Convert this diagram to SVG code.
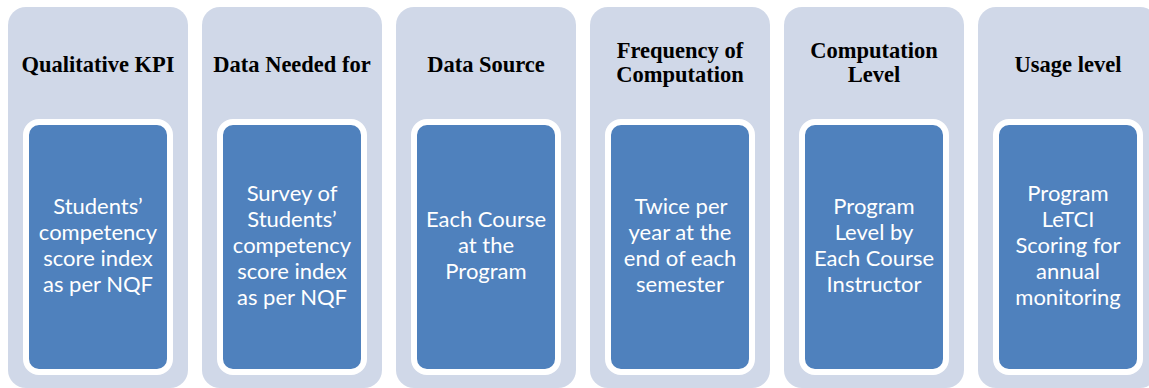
<svg xmlns="http://www.w3.org/2000/svg" width="1149" height="388" viewBox="0 0 1149 388">
<style>
.outer{fill:#D0D8E8;}
.inner{fill:#4F81BD;stroke:#FFFFFF;stroke-width:6;}
.head{font-family:"Liberation Serif","Times New Roman",serif;font-weight:bold;font-size:22.5px;fill:#000000;text-anchor:middle;}
.body{font-family:Lato,"Open Sans",sans-serif;font-size:22px;fill:#FFFFFF;text-anchor:middle;}
</style>
<rect x="0" y="0" width="1149" height="388" fill="#FFFFFF"/>
<g id="node1">
<rect class="outer" x="8" y="7" width="180" height="381" rx="18"/>
<rect class="inner" x="26" y="122" width="144" height="250" rx="13"/>
<text class="head" x="98" y="72">Qualitative KPI</text>
<text class="body" x="98" y="214">Students’</text>
<text class="body" x="98" y="240">competency</text>
<text class="body" x="98" y="266">score index</text>
<text class="body" x="98" y="292">as per NQF</text>
</g>
<g id="node2">
<rect class="outer" x="202" y="7" width="180" height="381" rx="18"/>
<rect class="inner" x="220" y="122" width="144" height="250" rx="13"/>
<text class="head" x="292" y="72">Data Needed for</text>
<text class="body" x="292" y="201">Survey of</text>
<text class="body" x="292" y="227">Students’</text>
<text class="body" x="292" y="253">competency</text>
<text class="body" x="292" y="279">score index</text>
<text class="body" x="292" y="305">as per NQF</text>
</g>
<g id="node3">
<rect class="outer" x="396" y="7" width="180" height="381" rx="18"/>
<rect class="inner" x="414" y="122" width="144" height="250" rx="13"/>
<text class="head" x="486" y="72">Data Source</text>
<text class="body" x="486" y="227">Each Course</text>
<text class="body" x="486" y="253">at the</text>
<text class="body" x="486" y="279">Program</text>
</g>
<g id="node4">
<rect class="outer" x="590" y="7" width="180" height="381" rx="18"/>
<rect class="inner" x="608" y="122" width="144" height="250" rx="13"/>
<text class="head" x="680" y="58">Frequency of</text>
<text class="head" x="680" y="82">Computation</text>
<text class="body" x="681" y="214">Twice per</text>
<text class="body" x="680" y="240">year at the</text>
<text class="body" x="680" y="266">end of each</text>
<text class="body" x="680" y="292">semester</text>
</g>
<g id="node5">
<rect class="outer" x="784" y="7" width="180" height="381" rx="18"/>
<rect class="inner" x="802" y="122" width="144" height="250" rx="13"/>
<text class="head" x="874" y="58">Computation</text>
<text class="head" x="874" y="82">Level</text>
<text class="body" x="874" y="214">Program</text>
<text class="body" x="874" y="240">Level by</text>
<text class="body" x="874" y="266">Each Course</text>
<text class="body" x="874" y="292">Instructor</text>
</g>
<g id="node6">
<rect class="outer" x="978" y="7" width="180" height="381" rx="18"/>
<rect class="inner" x="996" y="122" width="144" height="250" rx="13"/>
<text class="head" x="1068" y="72">Usage level</text>
<text class="body" x="1068" y="201">Program</text>
<text class="body" x="1068" y="227">LeTCI</text>
<text class="body" x="1068" y="253">Scoring for</text>
<text class="body" x="1068" y="279">annual</text>
<text class="body" x="1068" y="305">monitoring</text>
</g>
<g id="connectors"></g>
</svg>
